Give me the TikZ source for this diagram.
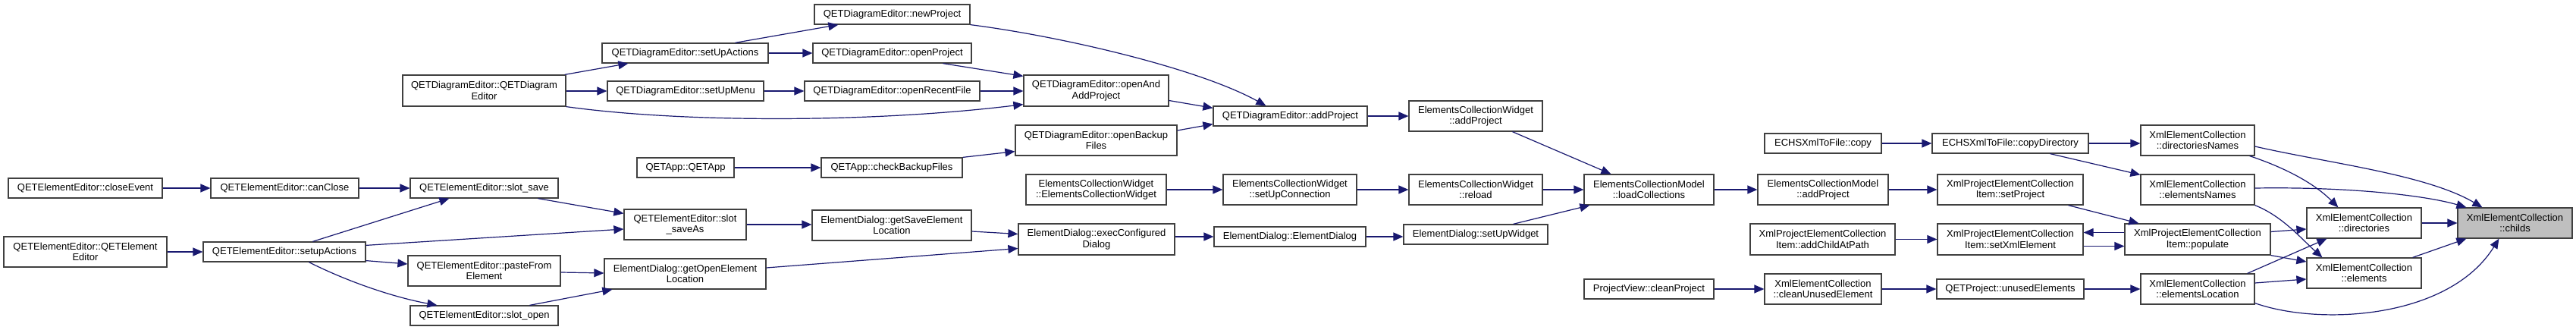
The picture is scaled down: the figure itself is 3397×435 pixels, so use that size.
\documentclass[tikz,border=0pt]{standalone}
\usepackage{fontspec}
\setmainfont{Liberation Sans}
\usetikzlibrary{arrows.meta,calc}
\definecolor{edgecol}{HTML}{191970}
\definecolor{boxcol}{HTML}{404040}
\definecolor{hlcol}{HTML}{BFBFBF}
\tikzset{
  box/.style={draw=boxcol, line width=1.2pt, fill=white, inner sep=0pt, align=center,
    font=\fontsize{13}{14.5}\selectfont},
  e/.style={draw=edgecol, line width=1.2pt, -{Triangle[length=13pt,width=11pt]}, fill=none},
}
\newcommand\nb[7][]{\node[box,#1,minimum width={(#5)-(#3)},minimum height={(#6)-(#4)}] (#2) at ({((#3)+(#5))/2},{((#4)+(#6))/2}) {#7};}
\begin{document}
\begin{tikzpicture}[x=1pt,y=-1pt]
\fill[white] (0,0) rectangle (3397,435);
\useasboundingbox (0,0) rectangle (3397,435);
% nodes
\nb{qdeC}{531}{99}{746}{140}{QETDiagramEditor::QETDiagram\\Editor}
\nb{ceE}{11}{235}{214}{261}{QETElementEditor::closeEvent}
\nb{cc}{278}{235}{473}{261}{QETElementEditor::canClose}
\nb{ss}{541}{235}{736}{261}{QETElementEditor::slot\_save}
\nb{qeeC}{5}{312}{220}{352}{QETElementEditor::QETElement\\Editor}
\nb{sa}{268}{319}{482}{345}{QETElementEditor::setupActions}
\nb{pfe}{538}{337}{739}{377}{QETElementEditor::pasteFrom\\Element}
\nb{so}{541}{403}{736}{429}{QETElementEditor::slot\_open}
\nb{np}{1074}{6}{1279}{32}{QETDiagramEditor::newProject}
\nb{sua}{794}{57}{1013}{83}{QETDiagramEditor::setUpActions}
\nb{op}{1072}{57}{1281}{83}{QETDiagramEditor::openProject}
\nb{sum}{801}{107}{1007}{133}{QETDiagramEditor::setUpMenu}
\nb{orf}{1061}{107}{1292}{133}{QETDiagramEditor::openRecentFile}
\nb{oaap}{1350}{99}{1541}{140}{QETDiagramEditor::openAnd\\AddProject}
\nb{qap}{1600}{140}{1803}{166}{QETDiagramEditor::addProject}
\nb{obf}{1339}{165}{1552}{205}{QETDiagramEditor::openBackup\\Files}
\nb{app}{840}{208}{968}{234}{QETApp::QETApp}
\nb{cbf}{1083}{208}{1269}{234}{QETApp::checkBackupFiles}
\nb{ecwC}{1353}{230}{1538}{270}{ElementsCollectionWidget\\::ElementsCollectionWidget}
\nb{ssa}{823}{276}{984}{316}{QETElementEditor::slot\\\_saveAs}
\nb{gse}{1071}{277}{1281}{317}{ElementDialog::getSaveElement\\Location}
\nb{ecd}{1343}{295}{1549}{336}{ElementDialog::execConfigured\\Dialog}
\nb{edC}{1601}{299}{1801}{325}{ElementDialog::ElementDialog}
\nb{goe}{797}{341}{1010}{381}{ElementDialog::getOpenElement\\Location}
\nb{ecwap}{1858}{133}{2034}{173}{ElementsCollectionWidget\\::addProject}
\nb{copy}{2327}{176}{2481}{202}{ECHSXmlToFile::copy}
\nb{suc}{1613}{230}{1789}{270}{ElementsCollectionWidget\\::setUpConnection}
\nb{rel}{1858}{230}{2034}{270}{ElementsCollectionWidget\\::reload}
\nb{lc}{2089}{230}{2260}{270}{ElementsCollectionModel\\::loadCollections}
\nb{ecmap}{2318}{230}{2490}{270}{ElementsCollectionModel\\::addProject}
\nb{suw}{1851}{296}{2041}{322}{ElementDialog::setUpWidget}
\nb{acap}{2308}{295}{2499}{336}{XmlProjectElementCollection\\Item::addChildAtPath}
\nb{pvc}{2089}{368}{2260}{394}{ProjectView::cleanProject}
\nb{cue}{2327}{361}{2481}{401}{XmlElementCollection\\::cleanUnusedElement}
\nb{cd}{2548}{176}{2754}{202}{ECHSXmlToFile::copyDirectory}
\nb{dn}{2823}{165}{2973}{205}{XmlElementCollection\\::directoriesNames}
\nb{sp}{2555}{230}{2747}{270}{XmlProjectElementCollection\\Item::setProject}
\nb{en}{2823}{230}{2973}{270}{XmlElementCollection\\::elementsNames}
\nb{dir}{3042}{274}{3193}{314}{XmlElementCollection\\::directories}
\nb[fill=hlcol]{ch}{3241}{274}{3392}{314}{XmlElementCollection\\::childs}
\nb{sxe}{2555}{295}{2747}{336}{XmlProjectElementCollection\\Item::setXmlElement}
\nb{pop}{2802}{295}{2994}{336}{XmlProjectElementCollection\\Item::populate}
\nb{el}{3042}{340}{3193}{380}{XmlElementCollection\\::elements}
\nb{ue}{2554}{368}{2748}{394}{QETProject::unusedElements}
\nb{elo}{2823}{361}{2973}{401}{XmlElementCollection\\::elementsLocation}
% edges
\draw[e] ($(qdeC.north east)+(-2,0)$) -- ($(sua.south west)+(35,0)$);
\draw[e] (qdeC.east |- sum.west) -- (sum.west);
\draw[e] (qdeC.south east) .. controls (900,162) and (1150,162) .. ($(oaap.south west)+(0,-3)$);
\draw[e] ($(sua.north west)+(176,0)$) -- ($(np.south west)+(32,0)$);
\draw[e] (sua.east) -- (op.west);
\draw[e] ($(op.south west)+(172,0)$) -- ($(oaap.north west)+(0,2)$);
\draw[e] (sum.east) -- (orf.west);
\draw[e] (orf.east) -- (orf.east -| oaap.west);
\draw[e] (np.south east) .. controls (1400,48) and (1580,90) .. ($(qap.north west)+(70,0)$);
\draw[e] ($(oaap.east)+(0,13)$) -- ($(qap.north west)+(0,3)$);
\draw[e] ($(obf.east)+(0,-13)$) -- ($(qap.south west)+(0,-3)$);
\draw[e] (app.east) -- (cbf.west);
\draw[e] (cbf.north east) -- ($(obf.south west)+(0,-6)$);
\draw[e] (qap.east) -- (qap.east -| ecwap.west);
\draw[e] ($(ecwap.south west)+(137,0)$) -- ($(lc.north west)+(36,0)$);
\draw[e] (ecwC.east) -- (suc.west);
\draw[e] (suc.east) -- (rel.west);
\draw[e] (rel.east) -- (lc.west);
\draw[e] ($(suw.north west)+(145,0)$) -- ($(lc.south west)+(8,0)$);
\draw[e] (edC.east) -- (edC.east -| suw.west);
\draw[e] (ecd.east |- edC.west) -- (edC.west);
\draw[e] ($(gse.east)+(0,8)$) -- ($(ecd.west)+(0,-7)$);
\draw[e] ($(goe.east)+(0,-8)$) -- ($(ecd.west)+(0,12)$);
\draw[e] (ssa.east) -- (ssa.east -| gse.west);
\draw[e] ($(ss.south west)+(169,0)$) -- ($(ssa.north west)+(0,6)$);
\draw[e] ($(sa.north west)+(145,0)$) -- ($(ss.south west)+(52,0)$);
\draw[e] ($(sa.north east)+(0,5)$) -- ($(ssa.west)+(0,6)$);
\draw[e] ($(sa.south east)+(0,-2)$) -- ($(pfe.west)+(0,-9)$);
\draw[e] ($(sa.south west)+(140,0)$) .. controls (460,372) and (520,392) .. ($(so.north west)+(36,0)$);
\draw[e] ($(pfe.east)+(0,2)$) -- ($(goe.west)+(0,-1)$);
\draw[e] ($(so.north west)+(158,0)$) -- ($(goe.south west)+(11,0)$);
\draw[e] (qeeC.east) -- (sa.west);
\draw[e] (ceE.east) -- (cc.west);
\draw[e] (cc.east) -- (ss.west);
\draw[e] (lc.east) -- (ecmap.west);
\draw[e] (ecmap.east) -- (sp.west);
\draw[e] ($(sp.south west)+(173,0)$) -- ($(pop.north west)+(19,0)$);
\draw[e] ($(pop.west)+(0,-9)$) -- ($(sxe.east)+(0,-9)$);
\draw[e] ($(sxe.east)+(0,9)$) -- ($(pop.west)+(0,9)$);
\draw[e] (acap.east) -- (sxe.west);
\draw[e] (copy.east) -- (cd.west);
\draw[e] (cd.east) -- (cd.east -| dn.west);
\draw[e] ($(cd.south west)+(156,0)$) -- ($(en.north west)+(0,1)$);
\draw[e] ($(dn.east)+(0,8)$) .. controls (3070,215) and (3200,230) .. ($(ch.north west)+(33,0)$);
\draw[e] ($(dn.south east)+(-7,0)$) .. controls (3010,220) and (3050,240) .. ($(dir.north west)+(42,0)$);
\draw[e] ($(en.east)+(0,-2)$) .. controls (3100,246) and (3200,258) .. ($(ch.north west)+(12,0)$);
\draw[e] (en.south east) .. controls (3010,285) and (3035,315) .. ($(el.north west)+(21,0)$);
\draw[e] (dir.east) -- (ch.west);
\draw[e] ($(pop.east)+(0,-10)$) -- ($(dir.west)+(0,8)$);
\draw[e] (pop.south east) -- ($(el.west)+(0,-15)$);
\draw[e] ($(el.north east)+(-12,0)$) -- ($(ch.south west)+(12,0)$);
\draw[e] ($(elo.north east)+(-10,0)$) -- ($(dir.south west)+(27,0)$);
\draw[e] ($(elo.east)+(0,-8)$) -- ($(el.west)+(0,8)$);
\draw[e] ($(elo.south east)+(0,-2)$) .. controls (3060,430) and (3230,420) .. ($(ch.south west)+(55,0)$);
\draw[e] (pvc.east) -- (cue.west);
\draw[e] (cue.east) -- (ue.west);
\draw[e] (ue.east) -- (elo.west);
\end{tikzpicture}
\end{document}
